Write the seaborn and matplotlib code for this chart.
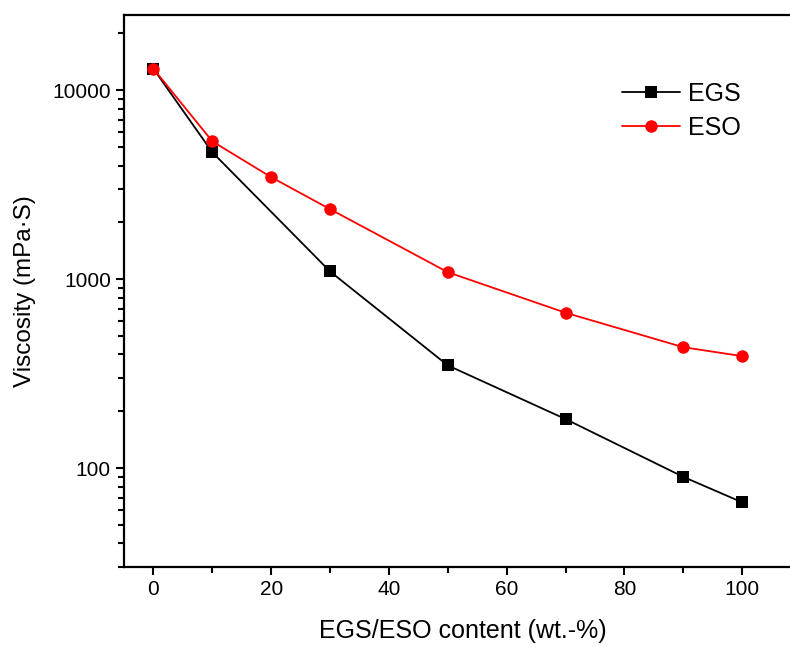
import numpy as np
import pandas as pd
import seaborn as sns
import matplotlib.pyplot as plt
from matplotlib.ticker import LogLocator, FuncFormatter, MultipleLocator, NullFormatter

# data
egs_x = [0, 10, 30, 50, 70, 90, 100]
egs_y = [13000, 4700, 1100, 350, 182, 90, 66]
eso_x = [0, 10, 20, 30, 50, 70, 90, 100]
eso_y = [13000, 5370, 3470, 2350, 1090, 665, 437, 392]

df = pd.concat([
    pd.DataFrame({'content': egs_x, 'viscosity': egs_y, 'series': 'EGS'}),
    pd.DataFrame({'content': eso_x, 'viscosity': eso_y, 'series': 'ESO'}),
])

sns.set_style('white')
plt.rcParams['font.family'] = ['Liberation Sans', 'DejaVu Sans']
plt.rcParams.update({'text.color': 'black', 'axes.labelcolor': 'black',
                     'xtick.color': 'black', 'ytick.color': 'black'})

fig = plt.figure(figsize=(7.9, 6.47), dpi=100)
ax = fig.add_axes([0.157, 0.1236, 0.857, 0.853])

sns.lineplot(data=df, x='content', y='viscosity', hue='series', style='series',
             markers={'EGS': 's', 'ESO': 'o'}, dashes=False,
             palette={'EGS': 'black', 'ESO': 'red'},
             markersize=9, markeredgewidth=0, linewidth=1.3, ax=ax)

ax.set_yscale('log')
ax.set_xlim(-5, 110)
ax.set_ylim(30, 25000)

ax.xaxis.set_major_locator(MultipleLocator(20))
ax.xaxis.set_minor_locator(MultipleLocator(10))
ax.yaxis.set_major_locator(LogLocator(base=10, numticks=10))
ax.yaxis.set_minor_locator(LogLocator(base=10, subs=np.arange(2, 10), numticks=20))
ax.yaxis.set_major_formatter(FuncFormatter(lambda v, p: f'{int(round(v))}'))
ax.yaxis.set_minor_formatter(NullFormatter())

ax.tick_params(axis='both', which='major', direction='out', length=6, width=1.5,
               labelsize=15, left=True, bottom=True, top=False, right=False)
ax.tick_params(axis='both', which='minor', direction='out', length=4, width=1.5,
               left=True, bottom=True, top=False, right=False)

for s in ax.spines.values():
    s.set_linewidth(1.6)
    s.set_color('black')

ax.set_xlabel('EGS/ESO content (wt.-%)', fontsize=18, labelpad=14)
ax.set_ylabel('Viscosity (mPa·S)', fontsize=17.5, labelpad=12)

leg = ax.legend(title=None, frameon=False, fontsize=18, loc='upper right',
                bbox_to_anchor=(0.945, 0.92), handlelength=2.3, labelspacing=0.4,
                handletextpad=0.35)

fig.savefig('out.png', dpi=100)
